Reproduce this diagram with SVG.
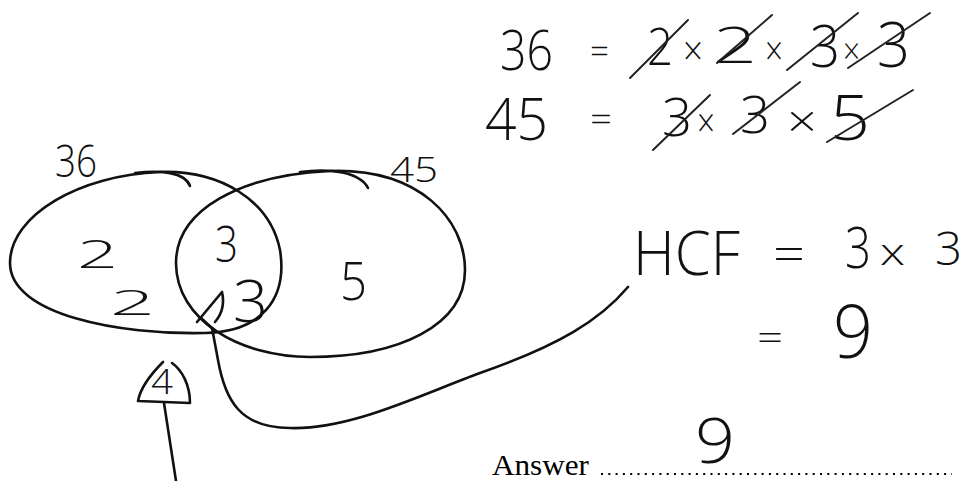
<svg xmlns="http://www.w3.org/2000/svg" width="967" height="481" viewBox="0 0 967 481">
<style>
.h{font-family:"Open Sans","Liberation Sans",sans-serif;font-weight:300;fill:#111}
.p{fill:none;stroke:#111;stroke-width:2.6;stroke-linecap:round;stroke-linejoin:round}
.s{fill:none;stroke:#222;stroke-width:2;stroke-linecap:round}
.pr{font-family:"Liberation Serif","Times New Roman",serif;fill:#000}
</style>
<rect width="967" height="481" fill="#fff"/>
<g id="venn-36">
<path class="p" d="M10,263 C10,215 80,175 160,172 C220,170 270,200 280,250 C288,300 260,332 205,333 C120,335 10,315 10,263 Z"/>
<path class="p" d="M135,173 C160,170 185,172 190,186"/>
<text class="h" x="55" y="177" font-size="45" textLength="42" lengthAdjust="spacingAndGlyphs">36</text>
<text class="h" x="77" y="268" font-size="39" textLength="41" lengthAdjust="spacingAndGlyphs">2</text>
<text class="h" x="110" y="315" font-size="35" textLength="45" lengthAdjust="spacingAndGlyphs">2</text>
</g>
<g id="venn-45">
<path class="p" d="M176,263 C176,210 240,175 330,171 C420,168 465,220 465,270 C465,325 400,357 310,357 C240,357 176,320 176,263 Z"/>
<path class="p" d="M300,172 C330,168 360,172 368,188"/>
<text class="h" x="390" y="182" font-size="35" textLength="48" lengthAdjust="spacingAndGlyphs">45</text>
<text class="h" x="340" y="300" font-size="53" textLength="27" lengthAdjust="spacingAndGlyphs">5</text>
</g>
<g id="intersection">
<text class="h" x="215" y="262" font-size="49" textLength="23" lengthAdjust="spacingAndGlyphs">3</text>
<text class="h" x="233" y="322" font-size="59" textLength="35" lengthAdjust="spacingAndGlyphs">3</text>
</g>
<g id="factors-36">
<text class="h" x="500" y="70" font-size="56" textLength="53" lengthAdjust="spacingAndGlyphs">36</text>
<text class="h" x="590" y="63" font-size="34" textLength="19" lengthAdjust="spacingAndGlyphs">=</text>
<text class="h" x="647" y="65" font-size="52" textLength="26" lengthAdjust="spacingAndGlyphs">2</text>
<text class="h" x="683" y="65" font-size="40" textLength="20" lengthAdjust="spacingAndGlyphs">×</text>
<text class="h" x="713" y="63" font-size="50" textLength="44" lengthAdjust="spacingAndGlyphs">2</text>
<text class="h" x="765" y="65" font-size="40" textLength="18" lengthAdjust="spacingAndGlyphs">×</text>
<text class="h" x="810" y="67" font-size="59" textLength="30" lengthAdjust="spacingAndGlyphs">3</text>
<text class="h" x="843" y="64" font-size="36" textLength="17" lengthAdjust="spacingAndGlyphs">×</text>
<text class="h" x="877" y="67" font-size="63" textLength="33" lengthAdjust="spacingAndGlyphs">3</text>
<line class="s" x1="630" y1="78" x2="688" y2="20"/>
<line class="s" x1="717" y1="63" x2="772" y2="15"/>
<line class="s" x1="787" y1="70" x2="858" y2="13"/>
<line class="s" x1="848" y1="68" x2="930" y2="13"/>
</g>
<g id="factors-45">
<text class="h" x="485" y="140" font-size="58" textLength="63" lengthAdjust="spacingAndGlyphs">45</text>
<text class="h" x="590" y="131" font-size="34" textLength="22" lengthAdjust="spacingAndGlyphs">=</text>
<text class="h" x="662" y="136" font-size="53" textLength="30" lengthAdjust="spacingAndGlyphs">3</text>
<text class="h" x="697" y="137" font-size="40" textLength="18" lengthAdjust="spacingAndGlyphs">×</text>
<text class="h" x="740" y="133" font-size="52" textLength="30" lengthAdjust="spacingAndGlyphs">3</text>
<text class="h" x="787" y="137" font-size="44" textLength="30" lengthAdjust="spacingAndGlyphs">×</text>
<text class="h" x="830" y="140" font-size="62" textLength="40" lengthAdjust="spacingAndGlyphs">5</text>
<line class="s" x1="653" y1="150" x2="710" y2="95"/>
<line class="s" x1="733" y1="134" x2="800" y2="82"/>
<line class="s" x1="827" y1="142" x2="913" y2="90"/>
</g>
<g id="hcf">
<text class="h" x="633" y="275" font-size="60" textLength="107" lengthAdjust="spacingAndGlyphs">HCF</text>
<text class="h" x="773" y="272" font-size="50" textLength="32" lengthAdjust="spacingAndGlyphs">=</text>
<text class="h" x="845" y="268" font-size="57" textLength="26" lengthAdjust="spacingAndGlyphs">3</text>
<text class="h" x="880" y="265" font-size="37" textLength="25" lengthAdjust="spacingAndGlyphs">x</text>
<text class="h" x="935" y="265" font-size="46" textLength="27" lengthAdjust="spacingAndGlyphs">3</text>
<text class="h" x="757" y="351" font-size="36" textLength="26" lengthAdjust="spacingAndGlyphs">=</text>
<text class="h" x="833" y="358" font-size="74" textLength="40" lengthAdjust="spacingAndGlyphs">9</text>
</g>
<g id="answer">
<text class="pr" x="492" y="475" font-size="29" textLength="97" lengthAdjust="spacingAndGlyphs">Answer</text>
<line x1="601" y1="474" x2="952" y2="474" stroke="#000" stroke-width="2.2" stroke-dasharray="2 5.3"/>
<text class="h" x="695" y="463" font-size="62" textLength="40" lengthAdjust="spacingAndGlyphs">9</text>
</g>
<g id="mark">
<path class="p" d="M163,362 C150,375 140,390 138,401 L190,403 C190,385 182,370 172,363"/>
<text class="h" x="151" y="394" font-size="34" textLength="22" lengthAdjust="spacingAndGlyphs">4</text>
</g>
<g id="connectors">
<path class="p" d="M628,287 C600,320 560,345 480,373 C420,395 350,430 290,428 C240,428 225,400 218,360 L212,328"/>
<path class="p" d="M197,322 L222,292 C225,305 221,315 215,322 M201,318 L214,330"/>
<path class="p" d="M164,403 L176,481"/>
</g>
</svg>
